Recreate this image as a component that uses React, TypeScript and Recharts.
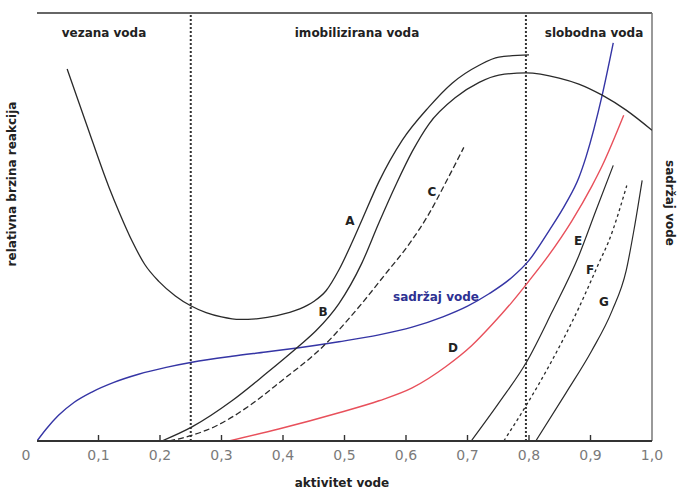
import React from 'react';
import { ComposedChart, Line, XAxis, YAxis, ReferenceLine } from 'recharts';

// ---- data (x = aktivitet vode, y = relative value 0..100) ----
const curveA: [number, number][] = [
  [0.049, 86.9], [0.08, 74.2], [0.117, 59.3], [0.135, 53.0], [0.155, 46.6], [0.175, 41.3],
  [0.198, 37.3], [0.225, 33.9], [0.25, 31.6], [0.275, 30.0], [0.3, 29.0], [0.33, 28.4],
  [0.36, 28.6], [0.39, 29.3], [0.426, 30.8], [0.45, 32.6], [0.47, 35.1], [0.491, 40.0],
  [0.512, 46.3], [0.528, 51.5], [0.556, 60.6], [0.594, 70.3], [0.637, 78.0], [0.675, 83.6],
  [0.719, 87.8], [0.751, 89.7], [0.8, 90.2],
];
const curveB: [number, number][] = [
  [0.203, 0], [0.252, 3.3], [0.317, 9.4], [0.372, 15.7], [0.426, 22.2], [0.454, 25.8],
  [0.491, 32.1], [0.528, 41.5], [0.556, 51.0], [0.584, 60.0], [0.61, 67.6], [0.637, 74.0],
  [0.681, 80.3], [0.719, 83.8], [0.751, 85.5], [0.795, 86.0], [0.849, 84.8], [0.881, 83.4],
  [0.919, 80.8], [0.958, 77.3], [1.0, 72.6],
];
const curveC: [number, number][] = [
  [0.215, 0], [0.236, 0.7], [0.291, 3.5], [0.345, 8.2], [0.398, 14.1], [0.463, 21.8],
  [0.528, 32.1], [0.567, 39.1], [0.605, 46.0], [0.637, 53.0], [0.665, 60.5], [0.694, 68.6],
];
const curveD: [number, number][] = [
  [0.312, 0], [0.393, 2.8], [0.491, 6.6], [0.556, 9.4], [0.61, 12.4], [0.665, 17.4],
  [0.707, 22.3], [0.74, 27.2], [0.772, 32.4], [0.8, 37.4], [0.828, 42.6], [0.87, 51.5],
  [0.902, 59.5], [0.919, 64.3], [0.954, 76.1],
];
const curveE: [number, number][] = [
  [0.706, 0], [0.751, 8.9], [0.797, 18.7], [0.837, 30.0], [0.881, 43.3], [0.909, 53.9], [0.937, 64.4],
];
const curveF: [number, number][] = [
  [0.759, 0], [0.795, 8.2], [0.837, 18.7], [0.881, 31.1], [0.914, 41.7], [0.93, 46.8], [0.959, 59.7],
];
const curveG: [number, number][] = [
  [0.811, 0], [0.86, 11.2], [0.902, 21.1], [0.935, 30.4], [0.958, 39.8], [0.972, 50.4], [0.984, 60.9],
];
const waterContent: [number, number][] = [
  [0, 0], [0.015, 2.8], [0.035, 6.0], [0.06, 9.0], [0.09, 11.5], [0.125, 13.7], [0.165, 15.6],
  [0.21, 17.2], [0.252, 18.4], [0.317, 19.8], [0.372, 20.8], [0.426, 21.8], [0.491, 23.2],
  [0.556, 24.8], [0.61, 26.6], [0.66, 29.0], [0.7, 31.5], [0.735, 34.4], [0.772, 38.2],
  [0.8, 42.2], [0.833, 49.2], [0.86, 55.5], [0.881, 61.5], [0.893, 66.5], [0.919, 80.8], [0.937, 93.0],
];
const zoneBounds = [0.25, 0.795];
const xTicks = [0, 0.1, 0.2, 0.3, 0.4, 0.5, 0.6, 0.7, 0.8, 0.9, 1.0];
const zoneTitles = ['vezana voda', 'imobilizirana voda', 'slobodna voda'];
const curveLetters = ['A', 'B', 'C', 'D', 'E', 'F', 'G'];
const xTitle = 'aktivitet vode';
const yTitle = 'relativna brzina reakcija';
const y2Title = 'sadržaj vode';

const toPts = (arr: [number, number][]) => arr.map(([x, y]) => ({ x, y }));
const fmt = (v: number) => (v === 0 ? '0' : v.toFixed(1).replace('.', ','));

const FONT = '"DejaVu Sans", sans-serif';

const XTick = (props: any) => {
  const { x, y, payload } = props;
  const v = payload.value as number;
  const mark = v > 0.001 && v < 0.999;
  const dx = v === 0 ? -11 : 0;
  return (
    <g>
      {mark && <line x1={x} x2={x} y1={y} y2={y - 6} stroke="#333" strokeWidth={1.4} />}
      <text x={x + dx} y={y + 19} textAnchor="middle" fontSize={14} fill="#7a7a7a" fontFamily={FONT}>
        {fmt(v)}
      </text>
    </g>
  );
};

const lbl = (left: number, top: number, extra: React.CSSProperties = {}): React.CSSProperties => ({
  position: 'absolute',
  left,
  top,
  transform: 'translate(-50%, -50%)',
  fontFamily: FONT,
  fontWeight: 'bold',
  fontSize: 12,
  color: '#222',
  whiteSpace: 'nowrap',
  lineHeight: 1,
  ...extra,
});

const lineProps = { dataKey: 'y', type: 'monotone' as const, dot: false, isAnimationActive: false, activeDot: false };

export default function App() {
  return (
    <div style={{ position: 'absolute', left: 0, top: 0, width: 679, height: 491, background: '#fff' }}>
      <ComposedChart width={679} height={491} margin={{ top: 13, right: 27, bottom: 20, left: 37 }}>
        <XAxis
          dataKey="x"
          type="number"
          domain={[0, 1]}
          ticks={xTicks}
          interval={0}
          tickSize={0}
          tickMargin={0}
          tickLine={false}
          tick={<XTick />}
          height={30}
          axisLine={{ stroke: '#333', strokeWidth: 2 }}
          allowDataOverflow
        />
        <YAxis
          type="number"
          domain={[0, 100]}
          width={0}
          tick={false}
          tickLine={false}
          axisLine={{ stroke: '#555', strokeWidth: 2 }}
          allowDataOverflow
        />
        <ReferenceLine y={100} stroke="#666" strokeWidth={2} />
        <ReferenceLine x={1} stroke="#777" strokeWidth={1.5} />
        {zoneBounds.map((b) => (
          <ReferenceLine key={b} x={b} stroke="#333" strokeWidth={2} strokeDasharray="2 2" />
        ))}
        <Line {...lineProps} data={toPts(waterContent)} stroke="#3535a5" strokeWidth={1.4} />
        <Line {...lineProps} data={toPts(curveD)} stroke="#e8505b" strokeWidth={1.4} />
        <Line {...lineProps} data={toPts(curveA)} stroke="#2a2a2a" strokeWidth={1.3} />
        <Line {...lineProps} data={toPts(curveB)} stroke="#2a2a2a" strokeWidth={1.3} />
        <Line {...lineProps} data={toPts(curveC)} stroke="#2a2a2a" strokeWidth={1.3} strokeDasharray="6 3" />
        <Line {...lineProps} data={toPts(curveE)} stroke="#2a2a2a" strokeWidth={1.2} />
        <Line {...lineProps} data={toPts(curveF)} stroke="#2a2a2a" strokeWidth={1.3} strokeDasharray="3 3" />
        <Line {...lineProps} data={toPts(curveG)} stroke="#2a2a2a" strokeWidth={1.2} />
      </ComposedChart>

      <div style={lbl(104, 33)}>{zoneTitles[0]}</div>
      <div style={lbl(357, 33)}>{zoneTitles[1]}</div>
      <div style={lbl(594, 33)}>{zoneTitles[2]}</div>

      <div style={lbl(350, 221)}>{curveLetters[0]}</div>
      <div style={lbl(323, 312)}>{curveLetters[1]}</div>
      <div style={lbl(432, 192)}>{curveLetters[2]}</div>
      <div style={lbl(453, 348)}>{curveLetters[3]}</div>
      <div style={lbl(578, 241)}>{curveLetters[4]}</div>
      <div style={lbl(590, 270)}>{curveLetters[5]}</div>
      <div style={lbl(604, 302)}>{curveLetters[6]}</div>

      <div style={lbl(436, 297, { color: '#2e3192' })}>{y2Title}</div>
      <div style={lbl(342, 483)}>{xTitle}</div>
      <div style={lbl(12, 184, { transform: 'translate(-50%, -50%) rotate(-90deg)' })}>{yTitle}</div>
      <div style={lbl(670, 203, { transform: 'translate(-50%, -50%) rotate(90deg)' })}>{y2Title}</div>
    </div>
  );
}
